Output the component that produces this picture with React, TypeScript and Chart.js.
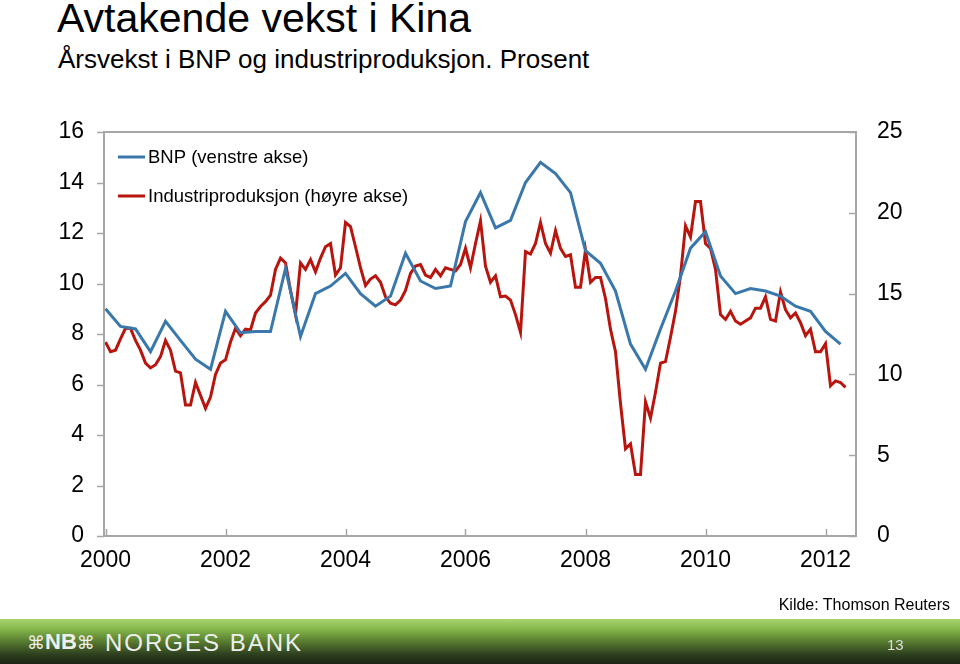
import React, { useEffect, useRef } from "react";
import { Chart, registerables } from "chart.js";

Chart.register(...registerables);

const title = "Avtakende vekst i Kina";
const subtitle = "Årsvekst i BNP og industriproduksjon. Prosent";
const source = "Kilde: Thomson Reuters";
const pageNumber = "13";
const seriesNames = ["BNP (venstre akse)", "Industriproduksjon (høyre akse)"];

// First observation: March 2000 (quarterly GDP = Q1 2000, monthly IP = Mar 2000)
const firstYear = 2000;
const xTickLabels = ["2000", "2002", "2004", "2006", "2008", "2010", "2012"];
const leftTicks = [0, 2, 4, 6, 8, 10, 12, 14, 16];
const rightTicks = [0, 5, 10, 15, 20, 25];

// BNP, year-on-year growth, quarterly 2000Q1 - 2012Q2 (left axis)
const gdpQuarterly = [
  9.0, 8.3, 8.2, 7.3,
  8.5, 7.75, 7.0, 6.6,
  8.9, 8.05, 8.1, 8.1,
  10.6, 7.9, 9.6, 9.9,
  10.4, 9.6, 9.1, 9.5,
  11.2, 10.1, 9.8, 9.9,
  12.45, 13.6, 12.2, 12.5,
  14.0, 14.8, 14.35, 13.6,
  11.3, 10.8, 9.7, 7.6,
  6.6, 8.2, 9.7, 11.4,
  12.05, 10.3, 9.6, 9.8,
  9.7, 9.5, 9.1, 8.9,
  8.1, 7.6,
];

// Industrial production, year-on-year growth, monthly Mar 2000 - Jul 2012 (right axis)
const industryMonthly = [
  12.0, 11.4, 11.5, 12.2, 12.85, 12.85, 12.1, 11.5, 10.7, 10.4, 10.6, 11.1,
  12.1, 11.5, 10.2, 10.1, 8.1, 8.1, 9.5, 8.7, 7.9, 8.6, 10.0, 10.7,
  10.9, 12.0, 12.85, 12.4, 12.8, 12.75, 13.8, 14.2, 14.5, 14.9, 16.5, 17.2,
  16.9, 15.2, 13.7, 16.9, 16.5, 17.1, 16.35, 17.2, 17.9, 18.1, 16.15, 16.6,
  19.4, 19.15, 17.9, 16.6, 15.5, 15.9, 16.1, 15.7, 14.8, 14.4, 14.3, 14.6,
  15.2, 16.25, 16.7, 16.8, 16.15, 16.0, 16.5, 16.1, 16.6, 16.5, 16.4, 16.8,
  17.8, 16.6, 18.1, 19.5, 16.7, 15.7, 16.1, 14.8, 14.85, 14.6, 13.7, 12.6,
  17.6, 17.45, 18.1, 19.4, 18.1, 17.5, 18.9, 17.8, 17.3, 17.4, 15.4, 15.4,
  17.7, 15.7, 16.0, 16.0, 14.7, 12.8, 11.4, 8.2, 5.4, 5.7, 3.8, 3.8,
  8.3, 7.3, 8.9, 10.7, 10.8, 12.3, 13.9, 16.1, 19.2, 18.5, 20.7, 20.7,
  18.1, 17.8, 16.5, 13.7, 13.4, 13.9, 13.3, 13.1, 13.3, 13.5, 14.1, 14.1,
  14.8, 13.4, 13.3, 15.1, 14.0, 13.5, 13.8, 13.2, 12.4, 12.8, 11.4, 11.4,
  11.9, 9.3, 9.6, 9.5, 9.2,
];

const BLUE = "#3a78ab";
const RED = "#b8150f";
const AXIS = "#a6a6a6";
const FONT = "'Liberation Sans', Arial, sans-serif";

const tickPositions = xTickLabels.map((y) => (Number(y) - firstYear) * 12);

const framePlugin = {
  id: "frame",
  afterDraw(chart: any) {
    const { ctx, chartArea } = chart;
    const { left, right, top, bottom } = chartArea;
    ctx.save();
    ctx.strokeStyle = AXIS;
    ctx.lineWidth = 2;
    ctx.strokeRect(left, top, right - left, bottom - top);
    ctx.lineWidth = 1.5;
    const yl = chart.scales.y;
    const yr = chart.scales.y2;
    const x = chart.scales.x;
    ctx.beginPath();
    leftTicks.forEach((v) => {
      const p = Math.round(yl.getPixelForValue(v)) + 0.5;
      ctx.moveTo(left - 7, p);
      ctx.lineTo(left, p);
    });
    rightTicks.forEach((v) => {
      const p = Math.round(yr.getPixelForValue(v)) + 0.5;
      ctx.moveTo(right - 7, p);
      ctx.lineTo(right, p);
    });
    tickPositions.forEach((v) => {
      const p = Math.round(x.getPixelForValue(v)) + 0.5;
      ctx.moveTo(p, bottom - 7);
      ctx.lineTo(p, bottom);
    });
    ctx.stroke();

    // legend inside plot area
    const items = [
      { label: seriesNames[0], color: BLUE, y: 157 },
      { label: seriesNames[1], color: RED, y: 196 },
    ];
    ctx.font = `18.5px ${FONT}`;
    ctx.textBaseline = "middle";
    ctx.textAlign = "left";
    items.forEach((it) => {
      ctx.strokeStyle = it.color;
      ctx.lineWidth = 3;
      ctx.beginPath();
      ctx.moveTo(118, it.y);
      ctx.lineTo(145, it.y);
      ctx.stroke();
      ctx.fillStyle = "#000";
      ctx.fillText(it.label, 148, it.y + 1);
    });
    ctx.restore();
  },
};

export default function App() {
  const ref = useRef<HTMLCanvasElement>(null);

  useEffect(() => {
    if (!ref.current) return;
    const chart = new Chart(ref.current, {
      type: "line",
      data: {
        datasets: [
          {
            label: seriesNames[0],
            data: gdpQuarterly.map((v, i) => ({ x: i * 3, y: v })),
            borderColor: BLUE,
            borderWidth: 3,
            pointRadius: 0,
            tension: 0,
            yAxisID: "y",
          },
          {
            label: seriesNames[1],
            data: industryMonthly.map((v, i) => ({ x: i, y: v })),
            borderColor: RED,
            borderWidth: 3,
            pointRadius: 0,
            tension: 0,
            yAxisID: "y2",
          },
        ],
      },
      options: {
        responsive: false,
        animation: false,
        devicePixelRatio: 1,
        parsing: false as any,
        layout: { padding: { top: 132, left: 0, right: 0, bottom: 0 } },
        plugins: {
          legend: { display: false },
          tooltip: { enabled: false },
          title: { display: false },
        },
        scales: {
          x: {
            type: "linear",
            min: -0.3,
            max: 150.1,
            grid: { display: false, drawTicks: false },
            border: { display: false },
            afterBuildTicks: (s: any) => {
              s.ticks = tickPositions.map((v) => ({ value: v }));
            },
            afterFit: (s: any) => {
              s.height = 64;
            },
            ticks: {
              autoSkip: false,
              maxRotation: 0,
              padding: 11,
              color: "#000",
              font: { family: FONT, size: 23 },
              callback: (v: any) => {
                const i = tickPositions.indexOf(Number(v));
                return i >= 0 ? xTickLabels[i] : "";
              },
            },
          },
          y: {
            position: "left",
            min: 0,
            max: 16,
            grid: { display: false, drawTicks: false },
            border: { display: false },
            afterBuildTicks: (s: any) => {
              s.ticks = leftTicks.map((v) => ({ value: v }));
            },
            afterFit: (s: any) => {
              s.width = 104;
            },
            ticks: {
              padding: 20,
              color: "#000",
              font: { family: FONT, size: 23 },
            },
          },
          y2: {
            position: "right",
            min: 0,
            max: 25,
            grid: { display: false, drawTicks: false },
            border: { display: false },
            afterBuildTicks: (s: any) => {
              s.ticks = rightTicks.map((v) => ({ value: v }));
            },
            afterFit: (s: any) => {
              s.width = 104;
            },
            ticks: {
              padding: 21,
              color: "#000",
              font: { family: FONT, size: 23 },
            },
          },
        },
      },
      plugins: [framePlugin],
    });
    return () => chart.destroy();
  }, []);

  return (
    <div
      style={{
        position: "absolute",
        left: 0,
        top: 0,
        width: 960,
        height: 664,
        overflow: "hidden",
        background: "#fff",
        fontFamily: FONT,
      }}
    >
      <div style={{ position: "absolute", left: 57, top: -2, fontSize: 41, lineHeight: 1, color: "#000", whiteSpace: "nowrap" }}>
        {title}
      </div>
      <div style={{ position: "absolute", left: 58, top: 46, fontSize: 26, lineHeight: 1, color: "#000", whiteSpace: "nowrap" }}>
        {subtitle}
      </div>
      <canvas ref={ref} width={960} height={600} style={{ position: "absolute", left: 0, top: 0, display: "block" }} />
      <div style={{ position: "absolute", right: 10, top: 597, fontSize: 16, lineHeight: 1, color: "#000", whiteSpace: "nowrap" }}>
        {source}
      </div>
      <div
        style={{
          position: "absolute",
          left: 0,
          top: 619,
          width: 960,
          height: 45,
          background: "linear-gradient(180deg, #a9d570 0%, #86b84b 22%, #587c30 50%, #2f4120 78%, #1c2414 100%)",
        }}
      >
        <div style={{ position: "absolute", left: 27, top: 12, fontSize: 22, lineHeight: 1, color: "#eee", fontWeight: "bold", whiteSpace: "nowrap", letterSpacing: 0 }}>
          <span style={{ fontFamily: "'DejaVu Sans'", fontWeight: "normal", fontSize: 18 }}>⌘</span>NB<span style={{ fontFamily: "'DejaVu Sans'", fontWeight: "normal", fontSize: 18 }}>⌘</span>
        </div>
        <div style={{ position: "absolute", left: 105, top: 12, fontSize: 24, lineHeight: 1, color: "#eee", whiteSpace: "nowrap", letterSpacing: 2 }}>
          NORGES BANK
        </div>
        <div style={{ position: "absolute", left: 887, top: 18, fontSize: 15, lineHeight: 1, color: "#ddd", whiteSpace: "nowrap" }}>
          {pageNumber}
        </div>
      </div>
    </div>
  );
}
